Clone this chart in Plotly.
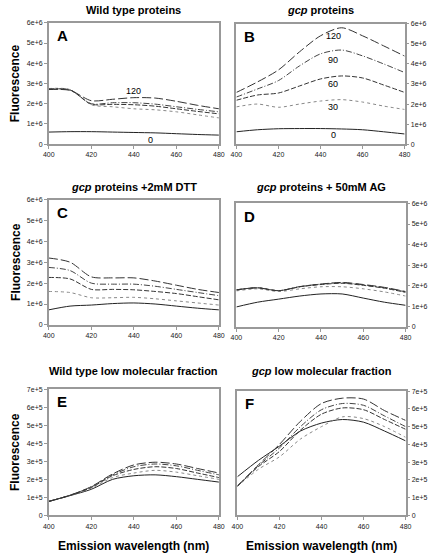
import plotly.graph_objects as go

W, H = 432, 556
wl = [400, 410, 420, 430, 440, 450, 460, 470, 480]
series_names = ["0", "30", "60", "90", "120"]

# Panel A: Wild type proteins
a_0 = [0.60e6, 0.62e6, 0.62e6, 0.60e6, 0.58e6, 0.56e6, 0.52e6, 0.48e6, 0.45e6]
a_30 = [2.75e6, 2.70e6, 1.95e6, 1.85e6, 1.75e6, 1.70e6, 1.60e6, 1.45e6, 1.30e6]
a_60 = [2.72e6, 2.68e6, 1.98e6, 1.97e6, 1.95e6, 1.88e6, 1.75e6, 1.62e6, 1.50e6]
a_90 = [2.72e6, 2.68e6, 2.00e6, 2.05e6, 2.05e6, 1.98e6, 1.85e6, 1.72e6, 1.60e6]
a_120 = [2.70e6, 2.66e6, 2.15e6, 2.22e6, 2.30e6, 2.28e6, 2.12e6, 1.92e6, 1.75e6]

# Panel B: gcp proteins
b_0 = [0.62e6, 0.72e6, 0.77e6, 0.78e6, 0.78e6, 0.76e6, 0.72e6, 0.62e6, 0.51e6]
b_30 = [1.86e6, 2.00e6, 1.84e6, 2.00e6, 2.15e6, 2.22e6, 2.10e6, 1.90e6, 1.73e6]
b_60 = [2.19e6, 2.45e6, 2.55e6, 2.90e6, 3.25e6, 3.40e6, 3.30e6, 2.95e6, 2.58e6]
b_90 = [2.35e6, 2.75e6, 3.17e6, 3.90e6, 4.50e6, 4.69e6, 4.40e6, 4.00e6, 3.57e6]
b_120 = [2.58e6, 3.10e6, 3.70e6, 4.60e6, 5.40e6, 5.80e6, 5.40e6, 4.90e6, 4.39e6]

# Panel C: gcp proteins + 2mM DTT
c_0 = [0.72e6, 0.90e6, 0.95e6, 1.02e6, 1.05e6, 1.00e6, 0.90e6, 0.80e6, 0.72e6]
c_30 = [1.60e6, 1.55e6, 1.30e6, 1.30e6, 1.32e6, 1.25e6, 1.15e6, 1.05e6, 0.95e6]
c_60 = [2.27e6, 2.20e6, 1.70e6, 1.70e6, 1.68e6, 1.60e6, 1.50e6, 1.35e6, 1.20e6]
c_90 = [2.75e6, 2.60e6, 2.00e6, 1.95e6, 1.95e6, 1.85e6, 1.70e6, 1.55e6, 1.40e6]
c_120 = [3.20e6, 3.00e6, 2.30e6, 2.25e6, 2.25e6, 2.10e6, 1.90e6, 1.70e6, 1.55e6]

# Panel D: gcp proteins + 50mM AG
d_0 = [0.97e6, 1.20e6, 1.35e6, 1.50e6, 1.60e6, 1.60e6, 1.40e6, 1.20e6, 1.05e6]
d_30 = [1.75e6, 1.85e6, 1.72e6, 1.85e6, 1.95e6, 1.95e6, 1.85e6, 1.70e6, 1.50e6]
d_60 = [1.80e6, 1.90e6, 1.76e6, 1.95e6, 2.06e6, 2.12e6, 2.02e6, 1.88e6, 1.68e6]
d_90 = [1.80e6, 1.90e6, 1.76e6, 1.95e6, 2.08e6, 2.14e6, 2.04e6, 1.90e6, 1.70e6]
d_120 = [1.80e6, 1.90e6, 1.76e6, 1.96e6, 2.08e6, 2.16e6, 2.06e6, 1.92e6, 1.72e6]

# Panel E: Wild type low molecular fraction
e_0 = [0.78e5, 1.10e5, 1.45e5, 2.00e5, 2.20e5, 2.25e5, 2.15e5, 2.00e5, 1.85e5]
e_30 = [0.78e5, 1.10e5, 1.50e5, 2.10e5, 2.35e5, 2.50e5, 2.40e5, 2.20e5, 2.00e5]
e_60 = [0.78e5, 1.12e5, 1.55e5, 2.20e5, 2.55e5, 2.70e5, 2.60e5, 2.35e5, 2.10e5]
e_90 = [0.78e5, 1.12e5, 1.58e5, 2.25e5, 2.70e5, 2.85e5, 2.75e5, 2.50e5, 2.25e5]
e_120 = [0.78e5, 1.12e5, 1.60e5, 2.30e5, 2.80e5, 2.95e5, 2.85e5, 2.60e5, 2.35e5]

# Panel F: gcp low molecular fraction
f_0 = [2.18e5, 3.10e5, 3.90e5, 4.75e5, 5.20e5, 5.40e5, 5.25e5, 4.75e5, 4.20e5]
f_30 = [1.65e5, 2.60e5, 3.30e5, 4.30e5, 5.00e5, 5.55e5, 5.45e5, 5.00e5, 4.40e5]
f_60 = [1.65e5, 2.75e5, 3.60e5, 4.80e5, 5.70e5, 6.05e5, 5.95e5, 5.40e5, 4.85e5]
f_90 = [1.65e5, 2.80e5, 3.80e5, 5.00e5, 5.95e5, 6.30e5, 6.20e5, 5.60e5, 5.00e5]
f_120 = [1.65e5, 2.85e5, 4.00e5, 5.30e5, 6.30e5, 6.60e5, 6.55e5, 5.90e5, 5.35e5]

x_ticks = [400, 420, 440, 460, 480]
y_ticks_big = [0, 1e6, 2e6, 3e6, 4e6, 5e6, 6e6]
y_ticktext_big = ["0", "1e+6", "2e+6", "3e+6", "4e+6", "5e+6", "6e+6"]
y_ticks_small = [0, 1e5, 2e5, 3e5, 4e5, 5e5, 6e5, 7e5]
y_ticktext_small = ["0", "1e+5", "2e+5", "3e+5", "4e+5", "5e+5", "6e+5", "7e+5"]

titles = ["<b>Wild type proteins</b>", "<b><i>gcp</i> proteins</b>",
          "<b><i>gcp</i> proteins +2mM DTT</b>", "<b><i>gcp</i> proteins + 50mM AG</b>",
          "<b>Wild type low molecular fraction</b>", "<b><i>gcp</i> low molecular fraction</b>"]
letters = ["A", "B", "C", "D", "E", "F"]

panels = [
    [a_0, a_30, a_60, a_90, a_120],
    [b_0, b_30, b_60, b_90, b_120],
    [c_0, c_30, c_60, c_90, c_120],
    [d_0, d_30, d_60, d_90, d_120],
    [e_0, e_30, e_60, e_90, e_120],
    [f_0, f_30, f_60, f_90, f_120],
]

# pixel boxes: x0, x1, ytop, ybottom, title y
boxes = [
    (44, 219, 19, 142, 6),
    (237, 410, 20, 142, 6),
    (44, 219, 198, 325, 185),
    (237, 411, 202, 327, 185),
    (44, 219, 390, 518, 372),
    (238, 411, 392, 518, 372),
]

styles = [
    dict(color="#222222", dash="solid", width=1),
    dict(color="#888888", dash="dot", width=1),
    dict(color="#333333", dash="5px,2px", width=1),
    dict(color="#444444", dash="6px,2px,1px,2px", width=1),
    dict(color="#333333", dash="9px,3px", width=1),
]

FONT = "Liberation Sans, Arial, sans-serif"

def px(x):
    return x / W

def py(y):
    return 1 - y / H

fig = go.Figure()
annotations = []
for i, (series, box) in enumerate(zip(panels, boxes)):
    n = i + 1
    xa = "x" if n == 1 else f"x{n}"
    ya = "y" if n == 1 else f"y{n}"
    for name, vals, st in zip(series_names, series, styles):
        fig.add_trace(go.Scatter(x=wl, y=vals, mode="lines", name=name,
                                 line=dict(shape="spline", smoothing=0.8, **st),
                                 xaxis=xa, yaxis=ya, showlegend=False,
                                 hoverinfo="skip"))
    x0, x1, yt, yb, ty = box
    big = i < 4
    right = (i % 2 == 1)
    axis_common = dict(showgrid=False, zeroline=False, showline=True, linecolor="#999999",
                       linewidth=1.5, mirror=True, ticks="outside", ticklen=3,
                       tickcolor="#999999", tickfont=dict(family=FONT, size=7, color="#222222"))
    fig.layout[("xaxis" if n == 1 else f"xaxis{n}")] = dict(
        domain=[px(x0), px(x1)], anchor=ya, range=[400, 480],
        tickvals=x_ticks, ticktext=[str(t) for t in x_ticks], **axis_common)
    fig.layout[("yaxis" if n == 1 else f"yaxis{n}")] = dict(
        domain=[py(yb), py(yt)], anchor=xa,
        range=[0, 6e6] if big else [0, 7e5],
        tickvals=y_ticks_big if big else y_ticks_small,
        ticktext=y_ticktext_big if big else y_ticktext_small,
        side="right" if right else "left", **axis_common)
    cx = (x0 + x1) / 2
    annotations.append(dict(text=titles[i], x=px(cx), y=py(ty), xref="paper", yref="paper",
                            showarrow=False, xanchor="center", yanchor="middle",
                            font=dict(family=FONT, size=11, color="#000000")))
    annotations.append(dict(text=f"<b>{letters[i]}</b>", x=px(x0 + 6), y=py(yt + 13),
                            xref="paper", yref="paper", showarrow=False,
                            xanchor="left", yanchor="middle",
                            font=dict(family=FONT, size=15, color="#000000")))
    if not right:
        annotations.append(dict(text="<b>Fluorescence</b>", x=px(10), y=py((yt + yb) / 2),
                                xref="paper", yref="paper", showarrow=False, textangle=-90,
                                xanchor="center", yanchor="middle",
                                font=dict(family=FONT, size=12, color="#000000")))
    if i >= 4:
        annotations.append(dict(text="<b>Emission wavelength (nm)</b>", x=px(cx), y=py(549),
                                xref="paper", yref="paper", showarrow=False,
                                xanchor="center", yanchor="middle",
                                font=dict(family=FONT, size=12, color="#000000")))

# curve labels on panels A and B
label_a = [("120", 440, 2.62e6, "x", "y"), ("0", 448, 0.22e6, "x", "y")]
label_b = [("120", 446, 5.4e6, "x2", "y2"), ("90", 446, 4.2e6, "x2", "y2"),
           ("60", 446, 3.0e6, "x2", "y2"), ("30", 446, 1.85e6, "x2", "y2"),
           ("0", 446, 0.45e6, "x2", "y2")]
for txt, xv, yv, xr, yr in label_a + label_b:
    annotations.append(dict(text=txt, x=xv, y=yv, xref=xr, yref=yr, showarrow=False,
                            font=dict(family=FONT, size=9, color="#000000")))

fig.update_layout(width=W, height=H, margin=dict(l=0, r=0, t=0, b=0),
                  paper_bgcolor="white", plot_bgcolor="white",
                  annotations=annotations, showlegend=False)

fig.write_html("out.html", config={"displayModeBar": False},
               post_script="document.body.style.margin='0';")
